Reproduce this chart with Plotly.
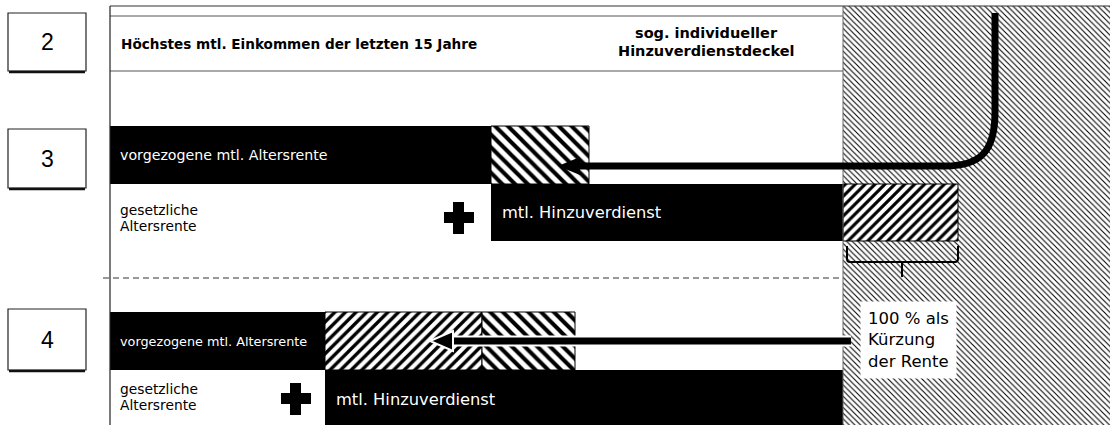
import plotly.graph_objects as go

# ---------------- data (diagram units, measured from frame origin) ----------------
zeilen = ["3", "4"]
rente_ausgezahlt = [381, 215]      # vorgezogene mtl. Altersrente (schwarz)
kuerzung_neu = [0, 157]            # zusätzliche Kürzung (Schraffur "/")
kuerzung_alt = [98, 93]            # Kürzung (Schraffur "\")
hinzuverdienst = [352, 518]        # mtl. Hinzuverdienst bis zum Deckel
ueberschreitung = [115, 0]         # Hinzuverdienst über dem Deckel
deckel = 733                       # sog. individueller Hinzuverdienstdeckel

titel_links = "Höchstes mtl. Einkommen der letzten 15 Jahre"
titel_rechts = ["sog. individueller", "Hinzuverdienstdeckel"]
nummern = ["2", "3", "4"]

# ---------------- layout constants (pixels) ----------------
W, H = 1110, 425
FX = 110            # frame origin x
TOP_Y = [155, 341]  # centre of upper bar per row
BOT_Y = [212.5, 399]
BAR_H = [58, 58]
FONT = "DejaVu Sans, Liberation Sans, Arial, sans-serif"
FONT_ARIAL = "Liberation Sans, Arial, sans-serif"

fig = go.Figure()

# background hatch right of the cap
fig.add_trace(go.Bar(
    orientation="h", y=[(6 + 440) / 2], x=[W - (FX + deckel)], base=[FX + deckel],
    width=[434], marker=dict(color="white", line=dict(width=0),
                             pattern=dict(shape="\\", size=4, solidity=0.27, fgopacity=1,
                                          fgcolor="black", bgcolor="white", fillmode="overlay")),
    hoverinfo="skip", showlegend=False))

def seg(yc, base, length, thick, kind, size=9, sol=0.45):
    ys, bs, xs, ws = [], [], [], []
    for y, b, l, t in zip(yc, base, length, thick):
        if l > 0:
            ys.append(y); bs.append(FX + b); xs.append(l); ws.append(t)
    if not ys:
        return
    if kind == "black":
        marker = dict(color="black", line=dict(color="black", width=0))
    else:
        marker = dict(color="white", line=dict(color="black", width=1),
                      pattern=dict(shape=kind, size=size, solidity=sol, fgopacity=1,
                                   fgcolor="black", bgcolor="white", fillmode="overlay"))
    fig.add_trace(go.Bar(orientation="h", y=ys, x=xs, base=bs, width=ws,
                         marker=marker, hoverinfo="skip", showlegend=False))

# upper bars: rente + kürzungen
seg(TOP_Y, [0, 0], rente_ausgezahlt, BAR_H, "black")
seg(TOP_Y, rente_ausgezahlt, kuerzung_neu, BAR_H, "/", size=7.5)
seg(TOP_Y, [r + k for r, k in zip(rente_ausgezahlt, kuerzung_neu)], kuerzung_alt, BAR_H, "\\", size=9)
# lower bars: hinzuverdienst + überschreitung
seg(BOT_Y, rente_ausgezahlt, hinzuverdienst, [57, 58], "black")
seg(BOT_Y, [r + h for r, h in zip(rente_ausgezahlt, hinzuverdienst)], ueberschreitung, [57, 58], "/", size=7)

shapes = []
def line(x0, y0, x1, y1, w=1, color="black", dash=None, layer="above"):
    shapes.append(dict(type="line", x0=x0, y0=y0, x1=x1, y1=y1, xref="x", yref="y",
                       line=dict(color=color, width=w, dash=dash), layer=layer))

cap_x = FX + deckel
# frame
line(FX, 6, W, 6, 1.2, "#333")
line(FX, 16, cap_x, 16, 1, "#555")
line(FX, 71, cap_x, 71, 1, "#555")
line(FX, 6, FX, H + 5, 1.2, "#222")
line(cap_x, 6, cap_x, H + 5, 1, "#666")
# dashed separator
shapes.append(dict(type="line", x0=103, y0=278, x1=cap_x, y1=278, xref="x", yref="y",
                   line=dict(color="#333", width=1, dash="6px,4px"), layer="above"))

# number boxes
for yb in [(13, 71), (129, 188), (309, 370)]:
    shapes.append(dict(type="rect", x0=8, x1=86, y0=yb[0], y1=yb[1], xref="x", yref="y",
                       line=dict(color="#222", width=1.2), fillcolor="white", layer="above"))
    line(9, yb[1] + 1, 85, yb[1] + 1, 2.5, "#111")

# plus signs
for cx, cy in [(459, 218), (296, 399)]:
    shapes.append(dict(type="rect", x0=cx - 15, x1=cx + 15, y0=cy - 6, y1=cy + 5, xref="x", yref="y",
                       line=dict(width=0), fillcolor="black", layer="above"))
    shapes.append(dict(type="rect", x0=cx - 6, x1=cx + 5, y0=cy - 16, y1=cy + 16, xref="x", yref="y",
                       line=dict(width=0), fillcolor="black", layer="above"))

# arrow row 3 (curved)
shapes.append(dict(type="path", xref="x", yref="y", layer="above",
                   path="M 995,13 L 995,112 C 995,150 982,166 945,166 L 576,166",
                   line=dict(color="black", width=7), fillcolor="rgba(0,0,0,0)"))
shapes.append(dict(type="path", xref="x", yref="y", layer="above",
                   path="M 558,166 L 580,157 L 580,175 Z",
                   line=dict(color="black", width=0), fillcolor="black"))
# arrow row 4
line(cap_x + 8, 341, 450, 341, 11, "white")
line(cap_x + 8, 341, 450, 341, 7, "black")
shapes.append(dict(type="path", xref="x", yref="y", layer="above",
                   path="M 430,341 L 453,331 L 453,351 Z",
                   line=dict(color="white", width=2), fillcolor="black"))

# brace
shapes.append(dict(type="path", xref="x", yref="y", layer="above",
                   path="M 847,246 L 847,259 Q 847,262 850,262 L 955,262 Q 958,262 958,259 L 958,246 M 902,262 L 902,277",
                   line=dict(color="black", width=2), fillcolor="rgba(0,0,0,0)"))

ann = []
def text(x, y, s, size, color="black", bold=False, xanchor="left", align="left", bg=None, pad=0, family=FONT):
    ann.append(dict(x=x, y=y, xref="x", yref="y", text=(f"<b>{s}</b>" if bold else s),
                    showarrow=False, xanchor=xanchor, yanchor="middle", align=align,
                    font=dict(family=family, size=size, color=color),
                    bgcolor=bg, borderpad=pad))

for n, yc in zip(nummern, [42, 158.5, 339.5]):
    text(47, yc, n, 23, xanchor="center", align="center", family=FONT_ARIAL)

text(120, 44, titel_links, 13.6, bold=True)
text(706, 33, titel_rechts[0], 14.5, bold=True, xanchor="center", align="center")
text(706, 51, titel_rechts[1], 14.5, bold=True, xanchor="center", align="center")

text(119, TOP_Y[0], "vorgezogene mtl. Altersrente", 14.2, color="white")
text(119, TOP_Y[1], "vorgezogene mtl. Altersrente", 12.8, color="white")
text(501, BOT_Y[0], "mtl. Hinzuverdienst", 16.3, color="white")
text(335, BOT_Y[1], "mtl. Hinzuverdienst", 16.3, color="white")
for ys in [(210, 226), (389, 405)]:
    text(119, ys[0], "gesetzliche", 13.8)
    text(119, ys[1], "Altersrente", 13.8)
text(860, 340, "100 % als<br>Kürzung<br>der Rente", 16.5, bg="white", pad=7)

fig.update_layout(
    width=W, height=H, margin=dict(l=0, r=0, t=0, b=0),
    paper_bgcolor="white", plot_bgcolor="white", barmode="overlay", bargap=0,
    xaxis=dict(range=[0, W], visible=False, fixedrange=True),
    yaxis=dict(range=[H, 0], visible=False, fixedrange=True),
    shapes=shapes, annotations=ann, showlegend=False,
)
fig.write_html("out.html", config={"displayModeBar": False, "staticPlot": True},
               post_script="document.body.style.margin='0px';")
